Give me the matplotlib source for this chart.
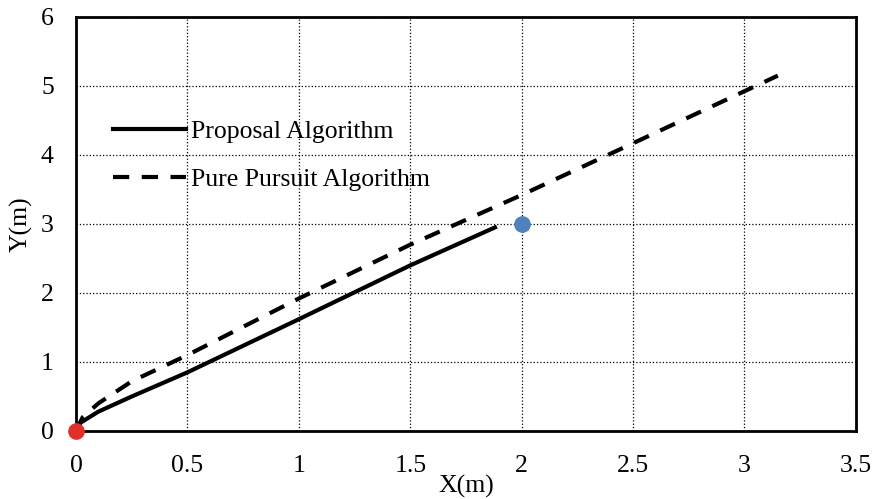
import numpy as np
import matplotlib.pyplot as plt

plt.rcParams['font.family'] = 'Liberation Serif'

# trajectories
prop_x = [0, 0.02, 0.1, 0.25, 0.5, 1.0, 1.5, 1.88]
prop_y = [0, 0.12, 0.28, 0.5, 0.85, 1.62, 2.4, 2.95]
pp_x = [0, 0.03, 0.1, 0.25, 0.5, 1.0, 1.5, 2.0, 2.5, 3.15]
pp_y = [0, 0.2, 0.4, 0.72, 1.1, 1.92, 2.7, 3.42, 4.17, 5.15]
start_pt = (0, 0)
goal_pt = (2, 3)

fs = 18.5

fig = plt.figure(figsize=(8.76, 4.99), dpi=100)
ax = fig.add_axes([0.0868, 0.1363, 0.8902, 0.8297])

ax.plot(prop_x, prop_y, color='black', lw=3, label='Proposal Algorithm')
ax.plot(pp_x, pp_y, color='black', lw=3, dashes=(3.9, 3.0), label='Pure Pursuit Algorithm')
ax.plot(*start_pt, 'o', color='#e0302a', ms=11, clip_on=False, zorder=5)
ax.plot(*goal_pt, 'o', color='#4f81bd', ms=11, clip_on=False, zorder=5)

ax.set_xlim(0, 3.5)
ax.set_ylim(0, 6)
ax.set_xticks(np.arange(0, 3.51, 0.5))
ax.set_xticklabels(['0', '0.5', '1', '1.5', '2', '2.5', '3', '3.5'])
ax.set_yticks(range(0, 7))
ax.grid(True, color='black', ls=':', lw=0.9)
ax.tick_params(axis='x', length=0, labelsize=fs, pad=17)
ax.tick_params(axis='y', length=0, labelsize=fs, pad=16)
for s in ax.spines.values():
    s.set_linewidth(2)

ax.set_xlabel('X(m)', fontsize=fs, labelpad=-1.5)
ax.set_ylabel('Y(m)', fontsize=fs, labelpad=6)

ax.legend(loc='upper left', bbox_to_anchor=(0.031, 0.781), frameon=False,
          fontsize=fs, handlelength=2.84, handletextpad=0.2, labelspacing=0.95,
          borderpad=0)

fig.savefig('out.png', dpi=100)
